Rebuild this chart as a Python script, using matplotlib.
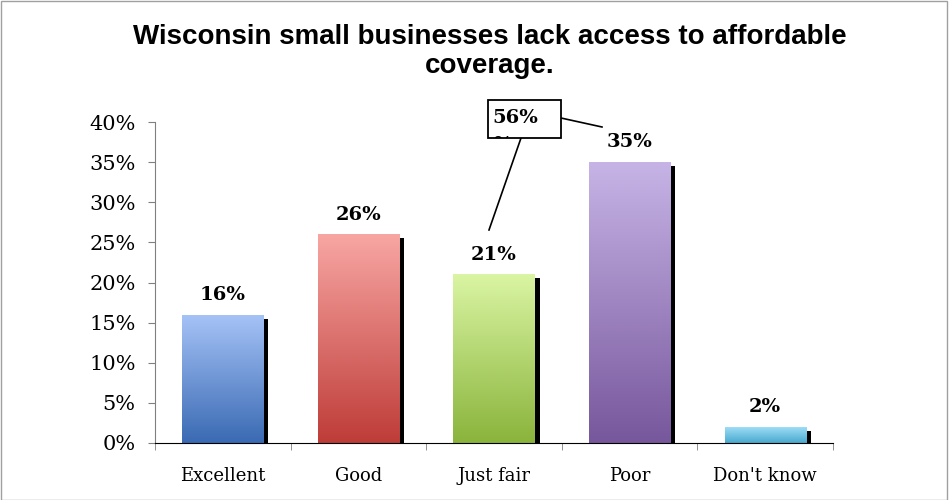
import numpy as np
import matplotlib.pyplot as plt
from matplotlib.colors import LinearSegmentedColormap
from matplotlib.patches import Rectangle

categories = ["Excellent", "Good", "Just fair", "Poor", "Don't know"]
values = [16, 26, 21, 35, 2]
top_colors = ["#a6c3f7", "#f8a6a3", "#daf5a3", "#c7b4e6", "#a3e0f8"]
bottom_colors = ["#3a6ab3", "#be3c38", "#8ab43c", "#77579c", "#48a9cf"]
yticks = [0, 5, 10, 15, 20, 25, 30, 35, 40]
title_lines = ["Wisconsin small businesses lack access to affordable", "coverage."]

W, H = 949, 500
fig = plt.figure(figsize=(W / 100, H / 100), dpi=100)
ax = fig.add_axes([155 / W, 1 - 443 / H, 678 / W, 321 / H])

serif = ["DejaVu Serif"]
width = 0.6
dx = 5 / 135.6   # shadow offset in x (data units)
dy = 0.5         # shadow offset in y (percent)

for i, (v, c1, c2) in enumerate(zip(values, top_colors, bottom_colors)):
    # shadow
    ax.add_patch(Rectangle((i - width / 2 + dx, 0), width, v - dy,
                           facecolor="black", edgecolor="none", zorder=1))
    # gradient bar
    bar = ax.bar(i, v, width=width, color="none", edgecolor="none", zorder=2)[0]
    cmap = LinearSegmentedColormap.from_list("g%d" % i, [c2, c1])
    grad = np.linspace(0, 1, 256).reshape(-1, 1)
    im = ax.imshow(grad, cmap=cmap, aspect="auto", origin="lower",
                   extent=(i - width / 2, i + width / 2, 0, v), zorder=2)
    im.set_clip_path(bar)
    ax.text(i, v + 1.85, "%d%%" % v, ha="center", va="baseline",
            fontsize=14, fontweight="bold", family=serif)

ax.set_xlim(-0.5, 4.5)
ax.set_ylim(0, 40)
ax.set_yticks(yticks)
ax.set_yticklabels(["%d%%" % t for t in yticks], family=serif, fontsize=15)
ax.set_xticks(range(len(categories)))
ax.set_xticklabels(categories, family=serif, fontsize=13)
ax.tick_params(axis="x", which="major", length=0, pad=17)
ax.set_xticks(np.arange(-0.5, 5, 1), minor=True)
ax.tick_params(axis="x", which="minor", length=5, color="#808080")
ax.tick_params(axis="y", length=5, color="#808080", pad=9)
ax.spines["top"].set_visible(False)
ax.spines["right"].set_visible(False)
ax.spines["left"].set_color("#808080")
ax.spines["bottom"].set_color("black")

# callout box
box = Rectangle((488 / W, 1 - 138 / H), 73 / W, 38 / H, transform=fig.transFigure,
                facecolor="white", edgecolor="black", linewidth=1.3, zorder=5)
fig.add_artist(box)
fig.text(492 / W, 1 - 123 / H, "56%", ha="left", va="baseline", fontsize=14,
         fontweight="bold", family=serif, zorder=6)
frag = fig.text(494 / W, 1 - 150 / H, "%", ha="left", va="baseline", fontsize=14,
                fontweight="bold", family=serif, zorder=6)
frag.set_clip_path(box)
fig.add_artist(plt.Line2D([521 / W, 489 / W], [1 - 138 / H, 1 - 230 / H],
                          color="black", linewidth=1.2))
fig.add_artist(plt.Line2D([561 / W, 602 / W], [1 - 118 / H, 1 - 127 / H],
                          color="black", linewidth=1.2))

fig.text(490 / W, 1 - 44 / H, title_lines[0], ha="center", va="baseline",
         fontsize=20, fontweight="bold", family=["Liberation Sans"])
fig.text(490 / W, 1 - 73 / H, title_lines[1], ha="center", va="baseline",
         fontsize=20, fontweight="bold", family=["Liberation Sans"])

fig.add_artist(Rectangle((0.001, 0.001), 0.997, 0.997, transform=fig.transFigure,
                         fill=False, edgecolor="#a0a0a0", linewidth=1))

fig.savefig("out.png", dpi=100)
